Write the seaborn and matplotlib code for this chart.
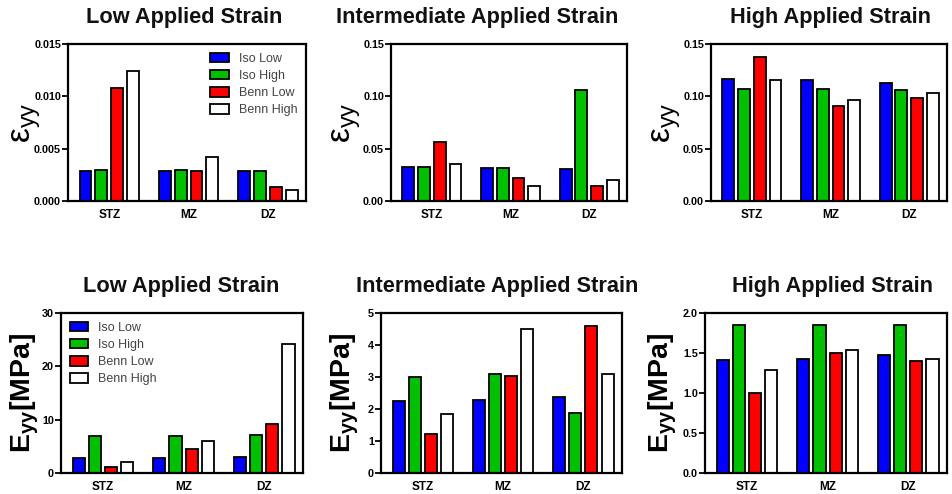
import matplotlib
matplotlib.use("Agg")
import matplotlib.pyplot as plt
import seaborn as sns
import pandas as pd
from matplotlib.patches import Patch
from matplotlib.ticker import FixedLocator, FormatStrFormatter

sns.set_theme(style="white")
plt.rcParams['font.family'] = ['Liberation Sans', 'DejaVu Sans']
plt.rcParams['mathtext.fontset'] = 'custom'
plt.rcParams['mathtext.rm'] = 'Liberation Sans'
plt.rcParams['mathtext.bf'] = 'Liberation Sans:bold'
plt.rcParams['mathtext.it'] = 'Liberation Sans:italic'

zones = ["STZ", "MZ", "DZ"]
series = ["Iso Low", "Iso High", "Benn Low", "Benn High"]
colors = ["#0000FF", "#00C000", "#FF0000", "#FFFFFF"]

# strain (top row)
eps_low = {"Iso Low": [0.0029, 0.0029, 0.0029],
           "Iso High": [0.0030, 0.0030, 0.0029],
           "Benn Low": [0.0108, 0.00284, 0.00137],
           "Benn High": [0.0124, 0.00424, 0.00102]}
eps_int = {"Iso Low": [0.0322, 0.0319, 0.0303],
           "Iso High": [0.0326, 0.0319, 0.106],
           "Benn Low": [0.0568, 0.0223, 0.0147],
           "Benn High": [0.0357, 0.0144, 0.0204]}
eps_high = {"Iso Low": [0.1168, 0.1152, 0.1123],
            "Iso High": [0.1069, 0.1069, 0.1063],
            "Benn Low": [0.1376, 0.0910, 0.0986],
            "Benn High": [0.1152, 0.0964, 0.1034]}
# modulus (bottom row)
E_low = {"Iso Low": [2.86, 2.86, 2.93],
         "Iso High": [6.97, 6.97, 7.16],
         "Benn Low": [1.18, 4.54, 9.21],
         "Benn High": [2.05, 5.98, 24.2]}
E_int = {"Iso Low": [2.24, 2.29, 2.38],
         "Iso High": [3.00, 3.08, 1.86],
         "Benn Low": [1.22, 3.04, 4.60],
         "Benn High": [1.84, 4.51, 3.08]}
E_high = {"Iso Low": [1.415, 1.427, 1.469],
          "Iso High": [1.855, 1.855, 1.855],
          "Benn Low": [1.00, 1.506, 1.398],
          "Benn High": [1.286, 1.535, 1.431]}

titles = ["Low Applied Strain", "Intermediate Applied Strain", "High Applied Strain"]

W, H = 953, 494
fig = plt.figure(figsize=(W / 100, H / 100), dpi=100)


def add_ax(l, r, t, b):
    return fig.add_axes([l / W, 1 - b / H, (r - l) / W, (b - t) / H])


panels = [
    (eps_low, (68, 306, 44, 201), [0, 0.005, 0.010, 0.015], '%.3f', 0.015, titles[0], 184, 18, 'eps', -0.172),
    (eps_int, (391, 627, 44, 201), [0, 0.05, 0.10, 0.15], '%.2f', 0.15, titles[1], 477, 18, 'eps', -0.188),
    (eps_high, (711, 947, 44, 201), [0, 0.05, 0.10, 0.15], '%.2f', 0.15, titles[2], 831, 18, 'eps', -0.188),
    (E_low, (61, 303, 313, 473), [0, 10, 20, 30], '%d', 30, titles[0], 181, 286, 'E', -0.15),
    (E_int, (381, 622, 313, 473), [0, 1, 2, 3, 4, 5], '%d', 5, titles[1], 497, 286, 'E', -0.151),
    (E_high, (705, 947, 313, 473), [0, 0.5, 1.0, 1.5, 2.0], '%.1f', 2.0, titles[2], 832, 286, 'E', -0.175),
]

for i, (data, box, ticks, fmt, ymax, title, tx, ty, kind, lx) in enumerate(panels):
    ax = add_ax(*box)
    rows = []
    for s in series:
        for z, v in zip(zones, data[s]):
            rows.append({"zone": z, "series": s, "value": v})
    df = pd.DataFrame(rows)
    sns.barplot(data=df, x="zone", y="value", hue="series", order=zones,
                hue_order=series, palette=colors, width=0.8, gap=0.25,
                edgecolor="black", linewidth=1.3, saturation=1, legend=False, ax=ax)
    ax.set_ylim(0, ymax)
    ax.set_xlim(-0.52, 2.48)
    ax.yaxis.set_major_locator(FixedLocator(ticks))
    ax.yaxis.set_major_formatter(FormatStrFormatter(fmt))
    for sp in ax.spines.values():
        sp.set_visible(True)
        sp.set_color("black")
        sp.set_linewidth(1.6)
    ax.tick_params(axis='y', which='major', direction='out', length=4, width=1.3,
                   left=True, labelsize=7.8, pad=1, colors='black')
    ax.tick_params(axis='x', which='major', direction='out', length=0,
                   labelsize=8.5, pad=6, colors='black')
    for lab in ax.get_xticklabels() + ax.get_yticklabels():
        lab.set_fontweight('bold')
    ax.set_xlabel("")
    if kind == 'eps':
        ax.set_ylabel(r"ε$_{\mathrm{yy}}$", fontsize=24, color='black')
    else:
        ax.set_ylabel(r"$\mathbf{E}_{\mathbf{yy}}\mathbf{[MPa]}$", fontsize=20.5,
                      color='black')
    ax.yaxis.set_label_coords(lx, 0.5)
    ax.yaxis.label.set_va('center')
    fig.text(tx / W, 1 - ty / H, title, ha='center', va='center',
             fontsize=15.7, fontweight='bold', color='#111111')

    if i in (0, 3):
        handles = [Patch(facecolor=c, edgecolor='black', linewidth=1.3, label=s)
                   for c, s in zip(colors, series)]
        loc = 'upper right' if i == 0 else 'upper left'
        leg = ax.legend(handles=handles, loc=loc, frameon=False, fontsize=9,
                        handlelength=1.5, handleheight=0.8, labelspacing=0.4,
                        handletextpad=0.8, borderaxespad=0.3)
        for t in leg.get_texts():
            t.set_color('#444444')

fig.savefig("out.png", dpi=100)
